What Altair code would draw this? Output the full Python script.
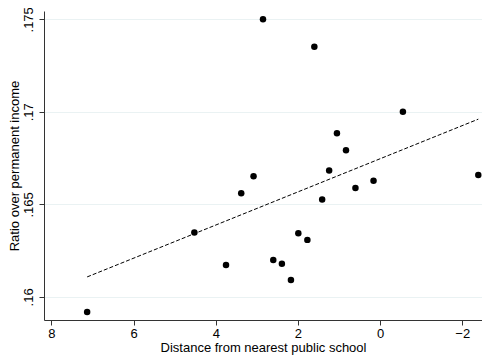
import altair as alt
import pandas as pd

# Data
distance = [2.85, 1.60, -0.555, 1.05, 0.83, 1.24, 3.08, -2.39, 0.16, 3.38,
            0.60, 1.41, 1.99, 1.77, 2.60, 2.39, 2.17, 4.52, 3.75, 7.13]
ratio = [0.17500, 0.17352, 0.17000, 0.16884, 0.16793, 0.16683, 0.16652, 0.16659, 0.16627, 0.16560,
         0.16589, 0.16526, 0.16344, 0.16308, 0.16199, 0.16179, 0.16091, 0.16348, 0.16172, 0.15918]

x_ticks = [8, 6, 4, 2, 0, -2]
y_ticks = [0.16, 0.165, 0.17, 0.175]

df = pd.DataFrame({"x": distance, "y": ratio})

FONT = "Liberation Sans"

x_enc = alt.X(
    "x:Q",
    scale=alt.Scale(domain=[-2.48, 8.18], reverse=True, nice=False, zero=False),
    axis=alt.Axis(
        title="Distance from nearest public school",
        values=x_ticks,
        format="d",
        grid=False,
        tickSize=5,
        labelPadding=2,
        titlePadding=1,
    ),
)
y_enc = alt.Y(
    "y:Q",
    scale=alt.Scale(domain=[0.15875, 0.17545], nice=False, zero=False),
    axis=alt.Axis(
        title="Ratio over permanent income",
        values=y_ticks,
        labelExpr="replace(format(datum.value, '.3~f'), /^0/, '')",
        labelAngle=270,
        labelAlign="center",
        labelBaseline="bottom",
        grid=True,
        gridColor="#eaf2f3",
        gridWidth=1,
        tickSize=5,
        labelPadding=4,
        titlePadding=1,
    ),
)

points = alt.Chart(df).mark_circle(size=42, color="black", opacity=1).encode(x=x_enc, y=y_enc)

fit = (
    alt.Chart(df)
    .transform_regression("x", "y")
    .mark_line(color="black", strokeWidth=1, strokeDash=[4, 2])
    .encode(x=x_enc, y=y_enc)
)

chart = (
    alt.layer(fit, points)
    .properties(
        width=438,
        height=309,
        autosize=alt.AutoSizeParams(type="none"),
        padding={"left": 36, "top": 3, "right": 0, "bottom": 36},
        background="white",
    )
    .configure_view(stroke=None)
    .configure_axis(
        labelFont=FONT,
        titleFont=FONT,
        labelFontSize=13,
        titleFontSize=13,
        titleFontWeight="normal",
        labelColor="black",
        titleColor="black",
        domainColor="#333333",
        tickColor="#333333",
        domainWidth=1,
        tickWidth=1,
    )
)

chart.save("out.html", embed_options={"renderer": "svg", "actions": False})
